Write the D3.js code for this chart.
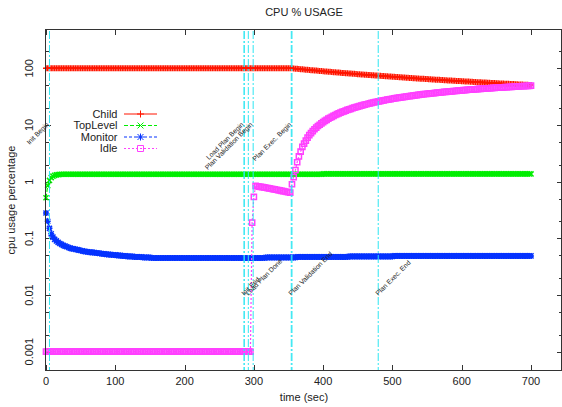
<!DOCTYPE html>
<html><head><meta charset="utf-8">
<script src="https://cdn.jsdelivr.net/npm/d3@7"></script>
<style>
body{margin:0;background:#fff}
svg{display:block}
text{font-family:"Liberation Sans",Arial,Helvetica,sans-serif;fill:#222}
</style>
</head><body>
<svg id="chart" width="562" height="407"></svg>
<script>
// ---------------- data ----------------
const times = [
0,2.5,5,7.5,10,12.5,15,17.5,20,22.5,25,27.5,30,32.5,35,37.5,40,42.5,45,47.5,
50,52.5,55,57.5,60,62.5,65,67.5,70,72.5,75,77.5,80,82.5,85,87.5,90,92.5,95,97.5,
100,102.5,105,107.5,110,112.5,115,117.5,120,122.5,125,127.5,130,132.5,135,137.5,140,142.5,145,147.5,
150,152.5,155,157.5,160,162.5,165,167.5,170,172.5,175,177.5,180,182.5,185,187.5,190,192.5,195,197.5,
200,202.5,205,207.5,210,212.5,215,217.5,220,222.5,225,227.5,230,232.5,235,237.5,240,242.5,245,247.5,
250,252.5,255,257.5,260,262.5,265,267.5,270,272.5,275,277.5,280,282.5,285,287.5,290,292.5,295,297.5,
300,302.5,305,307.5,310,312.5,315,317.5,320,322.5,325,327.5,330,332.5,335,337.5,340,342.5,345,347.5,
350,352.5,355,357.5,360,362.5,365,367.5,370,372.5,375,377.5,380,382.5,385,387.5,390,392.5,395,397.5,
400,402.5,405,407.5,410,412.5,415,417.5,420,422.5,425,427.5,430,432.5,435,437.5,440,442.5,445,447.5,
450,452.5,455,457.5,460,462.5,465,467.5,470,472.5,475,477.5,480,482.5,485,487.5,490,492.5,495,497.5,
500,502.5,505,507.5,510,512.5,515,517.5,520,522.5,525,527.5,530,532.5,535,537.5,540,542.5,545,547.5,
550,552.5,555,557.5,560,562.5,565,567.5,570,572.5,575,577.5,580,582.5,585,587.5,590,592.5,595,597.5,
600,602.5,605,607.5,610,612.5,615,617.5,620,622.5,625,627.5,630,632.5,635,637.5,640,642.5,645,647.5,
650,652.5,655,657.5,660,662.5,665,667.5,670,672.5,675,677.5,680,682.5,685,687.5,690,692.5,695,697.5,
700];

const child = [
100,100,100,100,100,100,100,100,100,100,100,100,100,100,100,100,100,100,100,100,
100,100,100,100,100,100,100,100,100,100,100,100,100,100,100,100,100,100,100,100,
100,100,100,100,100,100,100,100,100,100,100,100,100,100,100,100,100,100,100,100,
100,100,100,100,100,100,100,100,100,100,100,100,100,100,100,100,100,100,100,100,
100,100,100,100,100,100,100,100,100,100,100,100,100,100,100,100,100,100,100,100,
100,100,100,100,100,100,100,100,100,100,100,100,100,100,100,100,100,100,100,100,
100,100,100,100,100,100,100,100,100,100,100,100,100,100,100,100,100,100,100,100,
100,100,100,99.3,98.6,97.9,97.3,96.6,95.9,95.3,94.7,94.0,93.4,92.8,92.2,91.6,91.0,90.4,89.9,89.3,
88.8,88.2,87.7,87.1,86.6,86.1,85.5,85.0,84.5,84.0,83.5,83.0,82.6,82.1,81.6,81.1,80.7,80.2,79.8,79.3,
78.9,78.5,78.0,77.6,77.2,76.8,76.3,75.9,75.5,75.1,74.7,74.3,74.0,73.6,73.2,72.8,72.4,72.1,71.7,71.4,
71.0,70.6,70.3,70.0,69.6,69.3,68.9,68.6,68.3,67.9,67.6,67.3,67.0,66.7,66.4,66.0,65.7,65.4,65.1,64.8,
64.5,64.3,64.0,63.7,63.4,63.1,62.8,62.6,62.3,62.0,61.7,61.5,61.2,60.9,60.7,60.4,60.2,59.9,59.7,59.4,
59.2,58.9,58.7,58.4,58.2,58.0,57.7,57.5,57.3,57.0,56.8,56.6,56.3,56.1,55.9,55.7,55.5,55.3,55.0,54.8,
54.6,54.4,54.2,54.0,53.8,53.6,53.4,53.2,53.0,52.8,52.6,52.4,52.2,52.0,51.8,51.6,51.4,51.3,51.1,50.9,
50.7];

const topLevel = [
0.52,0.85,1.05,1.18,1.25,1.29,1.32,1.33,1.34,1.35,1.35,1.35,1.35,1.35,1.35,1.35,1.35,1.35,1.35,1.35,
1.35,1.35,1.35,1.35,1.35,1.35,1.35,1.35,1.35,1.35,1.35,1.35,1.35,1.35,1.35,1.35,1.35,1.35,1.35,1.35,
1.35,1.35,1.35,1.35,1.35,1.35,1.35,1.35,1.35,1.35,1.35,1.35,1.35,1.35,1.35,1.35,1.35,1.35,1.35,1.35,
1.35,1.35,1.35,1.35,1.35,1.35,1.35,1.35,1.35,1.35,1.35,1.35,1.35,1.35,1.35,1.35,1.35,1.35,1.35,1.35,
1.35,1.35,1.35,1.35,1.35,1.35,1.35,1.35,1.35,1.35,1.35,1.35,1.35,1.35,1.35,1.35,1.35,1.35,1.35,1.35,
1.35,1.35,1.35,1.35,1.35,1.35,1.35,1.35,1.35,1.35,1.35,1.35,1.35,1.35,1.35,1.35,1.35,1.35,1.35,1.35,
1.35,1.35,1.35,1.35,1.35,1.35,1.35,1.35,1.35,1.35,1.35,1.35,1.35,1.35,1.35,1.35,1.35,1.35,1.35,1.35,
1.35,1.35,1.35,1.35,1.35,1.35,1.35,1.35,1.35,1.35,1.35,1.35,1.35,1.35,1.35,1.35,1.35,1.35,1.35,1.35,
1.37,1.37,1.37,1.37,1.37,1.37,1.37,1.37,1.37,1.37,1.37,1.37,1.37,1.37,1.37,1.37,1.37,1.37,1.37,1.37,
1.37,1.37,1.37,1.37,1.37,1.37,1.37,1.37,1.37,1.37,1.37,1.37,1.37,1.37,1.37,1.37,1.37,1.37,1.37,1.37,
1.37,1.37,1.37,1.37,1.37,1.37,1.37,1.37,1.37,1.37,1.37,1.37,1.37,1.37,1.37,1.37,1.37,1.37,1.37,1.37,
1.37,1.37,1.37,1.37,1.37,1.37,1.37,1.37,1.37,1.37,1.37,1.37,1.37,1.37,1.37,1.37,1.37,1.37,1.37,1.37,
1.37,1.37,1.37,1.37,1.37,1.37,1.37,1.37,1.37,1.37,1.37,1.37,1.37,1.37,1.37,1.37,1.37,1.37,1.37,1.37,
1.37,1.37,1.37,1.37,1.37,1.37,1.37,1.37,1.37,1.37,1.37,1.37,1.37,1.37,1.37,1.37,1.37,1.37,1.37,1.37,
1.37];

const monitor = [
0.28,0.2,0.15,0.12,0.105,0.096,0.09,0.085,0.081,0.078,0.075,0.073,0.071,0.069,0.067,0.066,0.065,0.064,0.063,0.062,
0.061,0.06,0.059,0.058,0.058,0.057,0.057,0.056,0.056,0.055,0.055,0.054,0.054,0.053,0.053,0.052,0.052,0.052,0.051,0.051,
0.051,0.05,0.05,0.05,0.049,0.049,0.049,0.048,0.048,0.048,0.048,0.047,0.047,0.047,0.047,0.047,0.046,0.046,0.046,0.046,
0.046,0.045,0.045,0.045,0.045,0.045,0.045,0.045,0.045,0.045,0.045,0.045,0.045,0.045,0.045,0.045,0.045,0.045,0.045,0.045,
0.045,0.045,0.045,0.045,0.045,0.045,0.045,0.045,0.045,0.045,0.045,0.045,0.045,0.045,0.045,0.045,0.045,0.045,0.045,0.045,
0.045,0.045,0.045,0.045,0.045,0.045,0.045,0.045,0.045,0.045,0.045,0.045,0.045,0.045,0.045,0.045,0.045,0.045,0.045,0.045,
0.045,0.045,0.045,0.045,0.045,0.045,0.045,0.046,0.046,0.046,0.046,0.046,0.046,0.046,0.046,0.046,0.046,0.046,0.046,0.046,
0.046,0.046,0.046,0.046,0.046,0.047,0.047,0.047,0.047,0.047,0.047,0.047,0.047,0.047,0.047,0.047,0.047,0.047,0.047,0.047,
0.047,0.047,0.047,0.047,0.047,0.047,0.047,0.047,0.047,0.047,0.047,0.047,0.047,0.047,0.047,0.048,0.048,0.048,0.048,0.048,
0.048,0.048,0.048,0.048,0.048,0.048,0.048,0.048,0.048,0.048,0.048,0.048,0.048,0.048,0.048,0.048,0.048,0.048,0.048,0.048,
0.048,0.049,0.049,0.049,0.049,0.049,0.049,0.049,0.049,0.049,0.049,0.049,0.049,0.049,0.049,0.049,0.049,0.049,0.049,0.049,
0.049,0.049,0.049,0.049,0.049,0.049,0.049,0.049,0.049,0.049,0.049,0.049,0.049,0.049,0.049,0.049,0.049,0.049,0.049,0.049,
0.049,0.049,0.049,0.049,0.049,0.049,0.049,0.049,0.049,0.049,0.049,0.049,0.049,0.049,0.049,0.049,0.049,0.049,0.049,0.049,
0.049,0.049,0.049,0.049,0.049,0.049,0.049,0.049,0.049,0.049,0.049,0.049,0.049,0.049,0.049,0.049,0.049,0.049,0.049,0.049,
0.049];

const idle = [
0.001,0.001,0.001,0.001,0.001,0.001,0.001,0.001,0.001,0.001,0.001,0.001,0.001,0.001,0.001,0.001,0.001,0.001,0.001,0.001,
0.001,0.001,0.001,0.001,0.001,0.001,0.001,0.001,0.001,0.001,0.001,0.001,0.001,0.001,0.001,0.001,0.001,0.001,0.001,0.001,
0.001,0.001,0.001,0.001,0.001,0.001,0.001,0.001,0.001,0.001,0.001,0.001,0.001,0.001,0.001,0.001,0.001,0.001,0.001,0.001,
0.001,0.001,0.001,0.001,0.001,0.001,0.001,0.001,0.001,0.001,0.001,0.001,0.001,0.001,0.001,0.001,0.001,0.001,0.001,0.001,
0.001,0.001,0.001,0.001,0.001,0.001,0.001,0.001,0.001,0.001,0.001,0.001,0.001,0.001,0.001,0.001,0.001,0.001,0.001,0.001,
0.001,0.001,0.001,0.001,0.001,0.001,0.001,0.001,0.001,0.001,0.001,0.001,0.001,0.001,0.001,0.001,0.001,0.001,0.001,0.19,
0.54,0.84,0.83,0.82,0.81,0.80,0.79,0.78,0.77,0.76,0.75,0.74,0.73,0.72,0.71,0.70,0.69,0.68,0.67,0.66,
0.65,0.64,0.9,1.2,1.6,2.2,2.8,3.4,4.1,4.7,5.3,6.0,6.6,7.2,7.8,8.4,9.0,9.6,10.1,10.7,
11.2,11.8,12.3,12.9,13.4,13.9,14.5,15.0,15.5,16.0,16.5,17.0,17.4,17.9,18.4,18.9,19.3,19.8,20.2,20.7,
21.1,21.5,22.0,22.4,22.8,23.2,23.7,24.1,24.5,24.9,25.3,25.7,26.0,26.4,26.8,27.2,27.6,27.9,28.3,28.6,
29.0,29.4,29.7,30.0,30.4,30.7,31.1,31.4,31.7,32.1,32.4,32.7,33.0,33.3,33.6,34.0,34.3,34.6,34.9,35.2,
35.5,35.7,36.0,36.3,36.6,36.9,37.2,37.4,37.7,38.0,38.3,38.5,38.8,39.1,39.3,39.6,39.8,40.1,40.3,40.6,
40.8,41.1,41.3,41.6,41.8,42.0,42.3,42.5,42.7,43.0,43.2,43.4,43.7,43.9,44.1,44.3,44.5,44.7,45.0,45.2,
45.4,45.6,45.8,46.0,46.2,46.4,46.6,46.8,47.0,47.2,47.4,47.6,47.8,48.0,48.2,48.4,48.6,48.7,48.9,49.1,
49.3];

const seriesNames = ["Child", "TopLevel", "Monitor", "Idle"];
const seriesValues = [child, topLevel, monitor, idle];

const xTicks = [0, 100, 200, 300, 400, 500, 600, 700];
const yTicks = [0.001, 0.01, 0.1, 1, 10, 100];
const yTickLabels = ["0.001", "0.01", "0.1", "1", "10", "100"];
const yMinorTicks = [0.002, 0.005, 0.02, 0.05, 0.2, 0.5, 2, 5, 20, 50, 200];

const eventNames = ["Init Begin", "Init End", "Load Plan Begin", "Load Plan Done",
  "Plan Validation Begin", "Plan Validation End", "Plan Exec. Begin", "Plan Exec. End"];
const eventTimes = [5, 286, 286, 292, 299, 354, 355, 479.5];
const eventSides = ["top", "bottom", "top", "bottom", "top", "bottom", "top", "bottom"];

const chartTitle = "CPU % USAGE";
const xTitle = "time (sec)";
const yTitle = "cpu usage percentage";

// ---------------- drawing ----------------
const svg = d3.select("#chart");
const x = d3.scaleLinear().domain([0, 744]).range([46, 561.5]);
const y = d3.scaleLog().domain([0.000475, 474]).range([370, 30]);

const X0 = x.range()[0], X1 = x.range()[1];
const Y0 = y.range()[1], Y1 = y.range()[0];

const styles = [
  {color: "#ff1500", dash: null, marker: "plus"},
  {color: "#00ee00", dash: "4,2", marker: "cross"},
  {color: "#0533ff", dash: "3,2", marker: "star"},
  {color: "#ff40ff", dash: "2,2", marker: "square"}
];

function markerPath(type, s) {
  const p = d3.path();
  if (type === "plus" || type === "star") {
    p.moveTo(-s, 0); p.lineTo(s, 0); p.moveTo(0, -s); p.lineTo(0, s);
  }
  if (type === "cross" || type === "star") {
    const d = s * 0.85;
    p.moveTo(-d, -d); p.lineTo(d, d); p.moveTo(-d, d); p.lineTo(d, -d);
  }
  if (type === "square") {
    p.rect(-s, -s, 2 * s, 2 * s);
  }
  return p.toString();
}

// axis ticks (inward, mirrored)
const axisColor = "#333";
const tickG = svg.append("g").attr("stroke", axisColor).attr("stroke-width", 1)
  .attr("shape-rendering", "crispEdges");
xTicks.forEach(v => {
  const px = Math.round(x(v)) + 0.5;
  tickG.append("line").attr("x1", px).attr("x2", px).attr("y1", Y1).attr("y2", Y1 - 5);
  tickG.append("line").attr("x1", px).attr("x2", px).attr("y1", Y0).attr("y2", Y0 + 5);
});
yTicks.forEach(v => {
  const py = Math.round(y(v)) + 0.5;
  tickG.append("line").attr("x1", X0).attr("x2", X0 + 5).attr("y1", py).attr("y2", py);
  tickG.append("line").attr("x1", X1).attr("x2", X1 - 5).attr("y1", py).attr("y2", py);
});
yMinorTicks.forEach(v => {
  const py = Math.round(y(v)) + 0.5;
  tickG.append("line").attr("x1", X0).attr("x2", X0 + 3).attr("y1", py).attr("y2", py);
  tickG.append("line").attr("x1", X1).attr("x2", X1 - 3).attr("y1", py).attr("y2", py);
});

// tick labels
svg.append("g").selectAll("text").data(xTicks).join("text")
  .attr("x", d => x(d)).attr("y", 385)
  .attr("text-anchor", "middle").attr("font-size", 11).text(d => d);
svg.append("g").selectAll("text").data(yTicks).join("text")
  .attr("transform", d => `translate(29.5,${y(d)}) rotate(-90)`)
  .attr("text-anchor", "middle").attr("dy", "0.35em").attr("font-size", 11)
  .text((d, i) => yTickLabels[i]);

// titles
svg.append("text").attr("x", 304).attr("y", 16).attr("text-anchor", "middle")
  .attr("font-size", 11).text(chartTitle);
svg.append("text").attr("x", 304).attr("y", 401).attr("text-anchor", "middle")
  .attr("font-size", 11).text(xTitle);
svg.append("text").attr("transform", "translate(11,200) rotate(-90)")
  .attr("text-anchor", "middle").attr("dy", "0.35em").attr("font-size", 11).text(yTitle);

// series
const line = d3.line().x(d => x(d[0])).y(d => y(d[1]));
seriesValues.forEach((vals, k) => {
  const st = styles[k];
  const pts = times.slice(0, vals.length).map((t, i) => [t, vals[i]]);
  const g = svg.append("g").attr("class", "series-" + seriesNames[k]);
  g.append("path").attr("d", line(pts)).attr("fill", "none")
    .attr("stroke", st.color).attr("stroke-width", 1.2)
    .attr("stroke-dasharray", st.dash);
  const mp = markerPath(st.marker, st.marker === "square" ? 2.6 : 3);
  g.selectAll("path.m").data(pts).join("path").attr("class", "m")
    .attr("transform", d => `translate(${x(d[0])},${y(d[1])})`)
    .attr("d", mp).attr("fill", "none").attr("stroke", st.color).attr("stroke-width", 1.5);
});

// event lines
const evG = svg.append("g");
eventTimes.forEach((t, i) => {
  const px = x(t);
  evG.append("line").attr("x1", px).attr("x2", px).attr("y1", Y0 + 1).attr("y2", Y1)
    .attr("stroke", "#2ee6f2").attr("stroke-width", 1).attr("stroke-dasharray", "8,2,2,2");
});
eventTimes.forEach((t, i) => {
  const top = eventSides[i] === "top";
  const py = top ? y(10) : y(0.01) + 1;
  evG.append("text")
    .attr("transform", `translate(${x(t)},${py}) rotate(-45)`)
    .attr("text-anchor", top ? "end" : "start")
    .attr("font-size", 6.8).text(eventNames[i]);
});

// border
svg.append("rect").attr("x", X0 - 0.5).attr("y", Y0 - 0.5)
  .attr("width", X1 - X0 + 0.5).attr("height", Y1 - Y0 + 1)
  .attr("fill", "none").attr("stroke", axisColor).attr("stroke-width", 1)
  .attr("shape-rendering", "crispEdges");

// legend
const legendY = [114, 125.5, 137, 148.5];
const lg = svg.append("g");
seriesNames.forEach((name, k) => {
  const st = styles[k];
  const cy = legendY[k];
  lg.append("text").attr("x", 117.5).attr("y", cy).attr("dy", "0.35em")
    .attr("text-anchor", "end").attr("font-size", 11).text(name);
  lg.append("line").attr("x1", 124).attr("x2", 157).attr("y1", cy).attr("y2", cy)
    .attr("stroke", st.color).attr("stroke-width", 1).attr("stroke-dasharray", st.dash);
  lg.append("path").attr("transform", `translate(140.5,${cy})`)
    .attr("d", markerPath(st.marker, st.marker === "square" ? 3 : 3.5))
    .attr("fill", "none").attr("stroke", st.color).attr("stroke-width", 1);
});
</script>
</body></html>
